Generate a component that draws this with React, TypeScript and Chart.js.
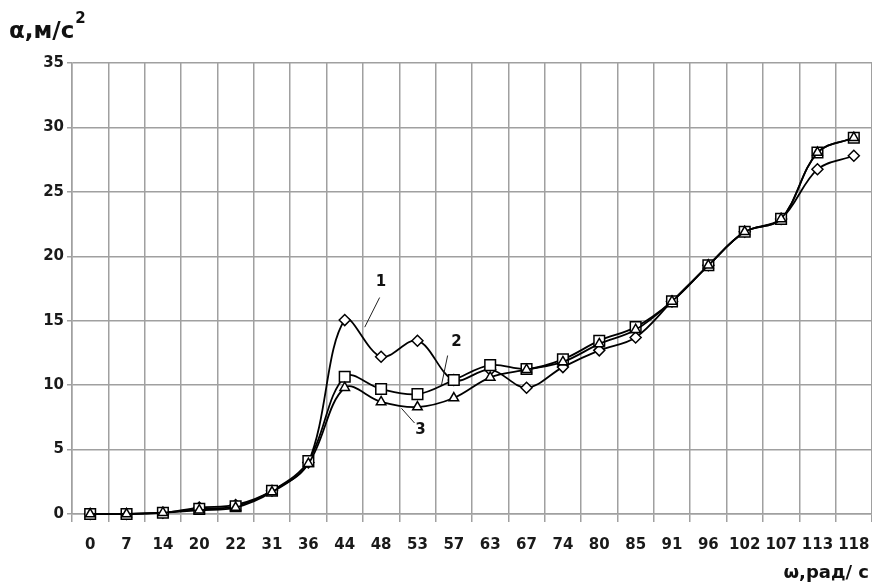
import React, { useEffect, useRef } from "react";
import { Chart, registerables } from "chart.js";

Chart.register(...registerables);

const categories = ["0", "7", "14", "20", "22", "31", "36", "44", "48", "53", "57", "63", "67", "74", "80", "85", "91", "96", "102", "107", "113", "118"];
const series1 = [0, 0, 0.1, 0.5, 0.7, 1.8, 4.0, 15.05, 12.2, 13.45, 10.4, 11.2, 9.8, 11.4, 12.7, 13.7, 16.5, 19.3, 21.9, 22.9, 26.75, 27.8];
const series2 = [0, 0, 0.1, 0.4, 0.6, 1.8, 4.1, 10.65, 9.7, 9.3, 10.4, 11.55, 11.25, 12.0, 13.45, 14.5, 16.5, 19.3, 21.9, 22.9, 28.05, 29.2];
const series3 = [0, 0, 0.1, 0.3, 0.5, 1.7, 3.9, 9.8, 8.7, 8.3, 9.0, 10.6, 11.2, 11.8, 13.2, 14.3, 16.5, 19.3, 21.9, 22.9, 28.05, 29.2];
const yTicks = [0, 5, 10, 15, 20, 25, 30, 35];

// curve labels: [text, label index, label value, leader from idx, from val, to idx, to val]
const curveLabels: [string, number, number, number, number, number, number][] = [
  ["1", 8.0, 18.0, 7.96, 16.8, 7.55, 14.5],
  ["2", 10.07, 13.35, 9.83, 12.3, 9.66, 10.0],
  ["3", 9.08, 6.5, 8.92, 7.06, 8.56, 8.2],
];

const FONT = "'DejaVu Sans', Verdana, sans-serif";

const textPlugin = {
  id: "texts",
  afterDatasetsDraw(chart: any) {
    const { ctx, scales } = chart;
    const xs = scales.x;
    const ys = scales.y;
    ctx.save();
    ctx.strokeStyle = "#222";
    ctx.lineWidth = 1;
    ctx.fillStyle = "#111";
    ctx.font = `bold 15px ${FONT}`;
    ctx.textAlign = "center";
    ctx.textBaseline = "middle";
    for (const [t, li, lv, fi, fv, ti, tv] of curveLabels) {
      ctx.beginPath();
      ctx.moveTo(xs.getPixelForValue(fi), ys.getPixelForValue(fv));
      ctx.lineTo(xs.getPixelForValue(ti), ys.getPixelForValue(tv));
      ctx.stroke();
      ctx.fillText(t, xs.getPixelForValue(li), ys.getPixelForValue(lv));
    }
    // axis titles
    ctx.textBaseline = "alphabetic";
    ctx.textAlign = "left";
    ctx.font = `bold 23px ${FONT}`;
    const main = "α,м/с";
    ctx.fillText(main, 9, 38);
    const w = ctx.measureText(main).width;
    ctx.font = `bold 15px ${FONT}`;
    ctx.fillText("2", 9 + w + 1, 23);
    ctx.textAlign = "right";
    ctx.font = `bold 18px ${FONT}`;
    ctx.fillText("ω,рад/ с", 869, 578);
    ctx.restore();
  },
};

export default function App() {
  const ref = useRef<HTMLCanvasElement | null>(null);
  useEffect(() => {
    if (!ref.current) return;
    const common = {
      borderColor: "#000",
      borderWidth: 1.8,
      pointBackgroundColor: "#fff",
      pointBorderColor: "#000",
      pointBorderWidth: 1.5,
      tension: 0.35,
      fill: false,
      clip: false,
    };
    const chart = new Chart(ref.current, {
      type: "line",
      data: {
        labels: categories,
        datasets: [
          { ...common, label: "1", data: series1, pointStyle: "rectRot", pointRadius: 5.5, order: 2 },
          { ...common, label: "2", data: series2, pointStyle: "rect", pointRadius: 7.5, order: 1 },
          { ...common, label: "3", data: series3, pointStyle: "triangle", pointRadius: 5.5, order: 0 },
        ],
      },
      options: {
        animation: false,
        responsive: false,
        devicePixelRatio: 1,
        layout: { autoPadding: false, padding: { top: 63, right: 0, left: 0, bottom: 0 } },
        plugins: { legend: { display: false }, tooltip: { enabled: false } },
        scales: {
          x: {
            offset: true,
            grid: { offset: true, color: "#a0a0a0", lineWidth: 1.5, tickLength: 8 },
            border: { color: "#a0a0a0", width: 1.5 },
            ticks: {
              autoSkip: false,
              maxRotation: 0,
              minRotation: 0,
              padding: 14,
              color: "#1a1a1a",
              font: { family: FONT, size: 15, weight: "bold" },
            },
            afterFit(scale: any) {
              scale.height = 69;
              scale.paddingLeft = 0;
              scale.paddingRight = 0;
            },
          },
          y: {
            min: 0,
            max: 35,
            afterBuildTicks(scale: any) {
              scale.ticks = yTicks.map((v) => ({ value: v }));
            },
            grid: { color: "#a0a0a0", lineWidth: 1.5, tickLength: 5 },
            border: { color: "#a0a0a0", width: 1.5 },
            ticks: {
              padding: 3,
              color: "#1a1a1a",
              font: { family: FONT, size: 15, weight: "bold" },
            },
            afterFit(scale: any) {
              scale.width = 72;
            },
          },
        },
      },
      plugins: [textPlugin],
    } as any);
    return () => chart.destroy();
  }, []);
  return (
    <div style={{ position: "absolute", left: 0, top: 0, width: 872, height: 583, background: "#fff" }}>
      <canvas ref={ref} width={872} height={583} style={{ display: "block" }} />
    </div>
  );
}
